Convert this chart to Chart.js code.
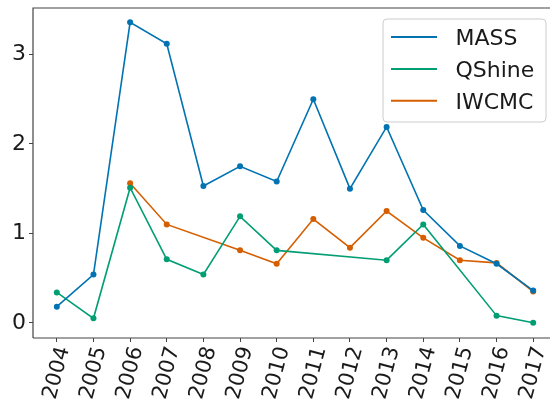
<!DOCTYPE html>
<html>
<head>
<meta charset="utf-8">
<script src="https://cdn.jsdelivr.net/npm/chart.js@4"></script>
<style>
  html, body { margin: 0; padding: 0; overflow: hidden; background: #fff; }
  #wrap { width: 550px; height: 409px; overflow: hidden; }
</style>
</head>
<body>
<div id="wrap"><canvas id="canvas" width="560" height="409"></canvas></div>
<script>
var years = [2004, 2005, 2006, 2007, 2008, 2009, 2010, 2011, 2012, 2013, 2014, 2015, 2016, 2017];
var massValues   = [0.18, 0.54, 3.36, 3.12, 1.53, 1.75, 1.58, 2.50, 1.50, 2.19, 1.26, 0.86, 0.66, 0.36];
var qshineValues = [0.34, 0.05, 1.51, 0.71, 0.54, 1.19, 0.81, null, null, 0.70, 1.10, null, 0.08, 0.00];
var iwcmcValues  = [null, null, 1.56, 1.10, null, 0.81, 0.66, 1.16, 0.84, 1.25, 0.95, 0.70, 0.67, 0.35];
var yTicks = [0, 1, 2, 3];

var FONT = '"DejaVu Sans", sans-serif';

// matplotlib-like spines (left, top, bottom)
var spines = {
    id: 'spines',
    afterDatasetsDraw: function(chart) {
        var a = chart.chartArea, c = chart.ctx;
        c.save();
        c.strokeStyle = '#444';
        c.lineWidth = 1.2;
        c.beginPath();
        c.moveTo(a.left, a.bottom);
        c.lineTo(a.left, a.top);
        c.lineTo(a.right + 10, a.top);
        c.moveTo(a.left, a.bottom);
        c.lineTo(a.right + 10, a.bottom);
        c.stroke();
        c.restore();
    }
};

// legend box inside the plot, upper right
var boxLegend = {
    id: 'boxLegend',
    afterDraw: function(chart) {
        var c = chart.ctx;
        var x = 383, y = 19, w = 163, h = 103, r = 4;
        c.save();
        c.beginPath();
        c.roundRect(x, y, w, h, r);
        c.fillStyle = 'rgba(255,255,255,0.8)';
        c.fill();
        c.strokeStyle = '#cccccc';
        c.lineWidth = 1;
        c.stroke();
        var rows = [37, 69, 100.7];
        chart.data.datasets.forEach(function(ds, i) {
            c.beginPath();
            c.strokeStyle = ds.borderColor;
            c.lineWidth = 2;
            c.moveTo(391, rows[i]);
            c.lineTo(437, rows[i]);
            c.stroke();
            c.fillStyle = '#1a1a1a';
            c.font = '22px ' + FONT;
            c.textAlign = 'left';
            c.textBaseline = 'alphabetic';
            c.fillText(ds.label, 455.5, rows[i] + 8);
        });
        c.restore();
    }
};

function makeSet(label, values, color) {
    return {
        label: label,
        data: values,
        borderColor: color,
        backgroundColor: color,
        borderWidth: 1.6,
        pointRadius: 3,
        pointBorderWidth: 0,
        pointHoverRadius: 3,
        tension: 0,
        spanGaps: true
    };
}

var ctx = document.getElementById('canvas').getContext('2d');
var myChart = new Chart(ctx, {
    type: 'line',
    data: {
        labels: years,
        datasets: [
            makeSet('MASS', massValues, '#0173b2'),
            makeSet('QShine', qshineValues, '#029e73'),
            makeSet('IWCMC', iwcmcValues, '#d55e00')
        ]
    },
    plugins: [spines, boxLegend],
    options: {
        responsive: false,
        animation: false,
        layout: { padding: { top: 8, right: 3, left: 0, bottom: 0 } },
        plugins: {
            legend: { display: false },
            tooltip: { enabled: false }
        },
        scales: {
            x: {
                type: 'linear',
                min: 2003.35,
                max: 2017.65,
                afterBuildTicks: function(scale) {
                    scale.ticks = years.map(function(v) { return { value: v }; });
                },
                afterFit: function(scale) {
                    scale.height = 71;
                    scale.paddingLeft = 0;
                    scale.paddingRight = 0;
                },
                border: { display: false },
                grid: { drawOnChartArea: false, tickLength: 4, color: '#444', tickWidth: 1 },
                ticks: {
                    autoSkip: false,
                    minRotation: 75,
                    maxRotation: 75,
                    padding: 2,
                    labelOffset: 7,
                    color: '#1a1a1a',
                    font: { family: FONT, size: 21 },
                    callback: function(v) { return String(v); }
                }
            },
            y: {
                min: -0.17,
                max: 3.52,
                afterBuildTicks: function(scale) {
                    scale.ticks = yTicks.map(function(v) { return { value: v }; });
                },
                afterFit: function(scale) {
                    scale.width = 33;
                    scale.paddingTop = 0;
                    scale.paddingBottom = 0;
                },
                border: { display: false },
                grid: { drawOnChartArea: false, tickLength: 4, color: '#444', tickWidth: 1 },
                ticks: {
                    padding: 3,
                    color: '#1a1a1a',
                    font: { family: FONT, size: 22 }
                }
            }
        }
    }
});
</script>
</body>
</html>
